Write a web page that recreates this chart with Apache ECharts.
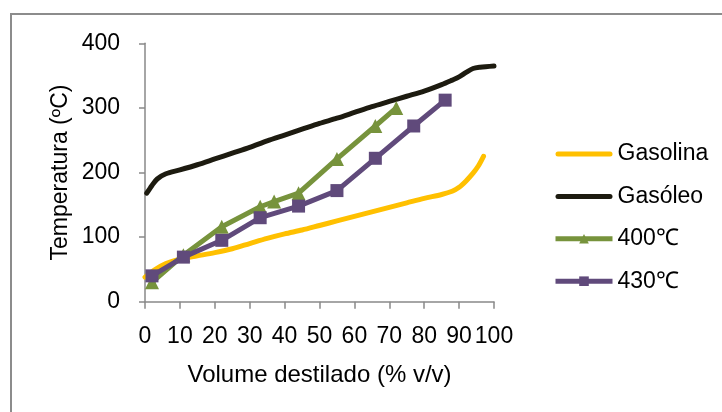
<!DOCTYPE html>
<html>
<head>
<meta charset="utf-8">
<title>Curvas de destilação</title>
<script src="https://cdn.jsdelivr.net/npm/echarts@6/dist/echarts.min.js"></script>
<style>
  html, body { margin: 0; padding: 0; background: #ffffff; }
  #chart { width: 722px; height: 412px; }
</style>
</head>
<body>
<div id="chart"></div>
<script>
// Distillation curves: temperature versus distilled volume
const seriesNames = ['Gasolina', 'Gasóleo', '400℃', '430℃'];

const gasolinaX = [0, 3, 6, 10, 15, 20, 25, 30, 35, 40, 45, 50, 55, 60, 65, 70, 75, 80, 85, 88, 90, 92, 94, 95.5, 97];
const gasolinaY = [38, 50, 59, 66, 71, 76, 82, 90, 98, 105, 111, 118, 125, 132, 139, 146, 153, 160, 166, 171, 177, 187, 199, 210, 225];

const gasoleoX = [0.5, 2, 3.5, 6, 10, 15, 20, 25, 30, 35, 40, 45, 50, 55, 60, 65, 70, 75, 80, 85, 88, 90, 92, 94, 96, 100];
const gasoleoY = [168, 180, 190, 198, 204, 212, 221, 230, 239, 249, 258, 267, 276, 284, 293, 302, 310, 318, 326, 336, 343, 348, 355, 361, 363, 365];

const t400X = [2, 11, 22, 33, 37, 44, 55, 66, 72];
const t400Y = [30, 72, 116, 147, 155, 168, 221, 272, 300];

const t430X = [2, 11, 22, 33, 44, 55, 66, 77, 86];
const t430Y = [40, 69, 95, 130, 148, 172, 222, 272, 312];

const xTicks = [0, 100, 10];   // min, max, step
const yTicks = [0, 400, 100];

const pairs = (xs, ys) => xs.map((x, i) => [x, ys[i]]);

const font = 'Liberation Sans, Arial, sans-serif';
const axisGray = '#898989';
// thick plain bar used as the legend key of the unmarked curves
const barIcon = 'path://M2.5,0 L54.5,0 A2.5,2.5 0 0 1 54.5,5 L2.5,5 A2.5,2.5 0 0 1 2.5,0 Z';

const chart = echarts.init(document.getElementById('chart'), null, { renderer: 'canvas' });

chart.setOption({
  animation: false,
  backgroundColor: '#ffffff',
  graphic: [{
    type: 'rect',
    shape: { x: 11, y: 14, width: 720, height: 420 },
    style: { fill: 'none', stroke: '#8c8c8c', lineWidth: 2 },
    silent: true
  }],
  grid: { left: 145, right: 228, top: 43.3, bottom: 110.3 },
  legend: {
    orient: 'vertical',
    left: 548,
    top: 136,
    itemWidth: 57,
    itemHeight: 12,
    itemGap: 16.4,
    lineStyle: { width: 5 },
    textStyle: { fontFamily: font, fontSize: 23, color: '#000', lineHeight: 26 },
    data: [
      { name: seriesNames[0], icon: barIcon },
      { name: seriesNames[1], icon: barIcon },
      { name: seriesNames[2] },
      { name: seriesNames[3] }
    ]
  },
  xAxis: {
    type: 'value',
    min: xTicks[0], max: xTicks[1], interval: xTicks[2],
    name: 'Volume destilado (% v/v)',
    nameLocation: 'middle',
    nameGap: 62,
    nameTextStyle: { fontFamily: font, fontSize: 24, color: '#000' },
    axisLine: { show: true, lineStyle: { color: axisGray, width: 1.5 } },
    axisTick: { show: true, length: 7, lineStyle: { color: axisGray, width: 1.5 } },
    axisLabel: { fontFamily: font, fontSize: 23, color: '#000', margin: 23 },
    splitLine: { show: false }
  },
  yAxis: {
    type: 'value',
    min: yTicks[0], max: yTicks[1], interval: yTicks[2],
    name: 'Temperatura (ºC)',
    nameLocation: 'middle',
    nameGap: 73,
    nameTextStyle: { fontFamily: font, fontSize: 23, color: '#000' },
    axisLine: { show: true, lineStyle: { color: axisGray, width: 1.5 } },
    axisTick: { show: true, length: 6, lineStyle: { color: axisGray, width: 1.5 } },
    axisLabel: { fontFamily: font, fontSize: 23, color: '#000', margin: 25 },
    splitLine: { show: false }
  },
  series: [
    {
      name: seriesNames[0], type: 'line', smooth: 0.3,
      data: pairs(gasolinaX, gasolinaY),
      symbol: 'none', color: '#FFC000',
      lineStyle: { width: 5, color: '#FFC000', cap: 'round' }
    },
    {
      name: seriesNames[1], type: 'line', smooth: 0.3,
      data: pairs(gasoleoX, gasoleoY),
      symbol: 'none', color: '#1d1b10',
      lineStyle: { width: 5, color: '#1d1b10', cap: 'round' }
    },
    {
      name: seriesNames[2], type: 'line',
      data: pairs(t400X, t400Y),
      symbol: 'triangle', symbolSize: 14, color: '#77933C',
      itemStyle: { color: '#77933C' },
      lineStyle: { width: 5, color: '#77933C' }
    },
    {
      name: seriesNames[3], type: 'line',
      data: pairs(t430X, t430Y),
      symbol: 'rect', symbolSize: 13, color: '#604A7B',
      itemStyle: { color: '#604A7B' },
      lineStyle: { width: 5, color: '#604A7B' }
    }
  ]
});
</script>
</body>
</html>
